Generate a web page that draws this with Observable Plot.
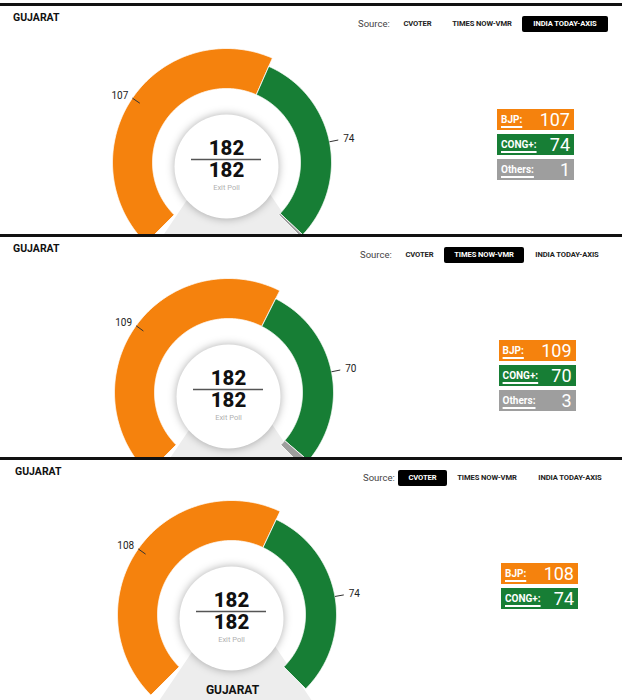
<!DOCTYPE html>
<html><head><meta charset="utf-8">
<script src="https://cdn.jsdelivr.net/npm/d3@7"></script>
<script src="https://cdn.jsdelivr.net/npm/@observablehq/plot@0.6"></script>
<style>
html,body{margin:0;background:#fff;overflow:hidden;font-family:Roboto,"Open Sans",sans-serif;}
#root{position:relative;width:622px;height:700px;overflow:hidden;}
.panel{position:absolute;left:0;width:622px;overflow:hidden;background:#fff;}
.panel svg{position:absolute;left:0;top:0;}
.rule{position:absolute;left:0;width:622px;height:2.5px;background:#111;}
.title{position:absolute;font-weight:700;font-size:10.5px;color:#111;line-height:12px;}
.src{position:absolute;display:flex;align-items:center;height:16px;}
.src .lab{font-size:9.5px;color:#444;width:35px;}
.src .it{font-weight:700;font-size:7.6px;color:#222;height:16px;line-height:16px;text-align:center;border-radius:2px;letter-spacing:-0.1px;}
.src .it.on{background:#000;color:#fff;}
.leg{position:absolute;}
.box{width:77px;height:21px;margin-bottom:4px;display:flex;justify-content:space-between;align-items:center;color:#fff;box-sizing:border-box;padding:0 4px 0 4px;}
.box .k{font-weight:700;font-size:10px;text-decoration:underline;text-decoration-thickness:1.5px;text-underline-offset:3px;}
.box .v{font-size:18px;}
</style></head><body><div id="root"></div><script>
// ---- data ----
const stateName = "GUJARAT";
const centerCaption = "Exit Poll";
const parties = ["BJP", "CONG+", "Others"];
const partyColors = ["#F5820D", "#177E35", "#9E9E9E"];
const sources = ["CVOTER", "TIMES NOW-VMR", "INDIA TODAY-AXIS"];
const panelSources = ["INDIA TODAY-AXIS", "TIMES NOW-VMR", "CVOTER"];
const seatsIndiaTodayAxis = [107, 74, 1];
const seatsTimesNowVmr = [109, 70, 3];
const seatsCvoter = [108, 74, 0];
const totalSeats = 182;

// ---- layout ----
const layout = [
  {top: 0,   height: 234, rule: 3, dx: 0, cy: 162, titleLeft: 13, footer: false},
  {top: 234, height: 223, rule: 0, dx: 2, cy: 158, titleLeft: 13, footer: false},
  {top: 457, height: 243, rule: 0, dx: 5, cy: 157, titleLeft: 15, footer: true}
];
const srcWidths = [49, 80, 86];
const seatsByPanel = [seatsIndiaTodayAxis, seatsTimesNowVmr, seatsCvoter];
const DEG = Math.PI / 180;
const startAngle = -135, sweep = 270;
const rInner = 74, rOuter = 105, rOuterHover = 114;
const polar = (r, a) => ({x: r * Math.sin(a * DEG), y: -r * Math.cos(a * DEG)});
function sector(a0, a1, r0, r1) {
  const n = Math.max(2, Math.ceil((a1 - a0) / 0.5));
  const pts = [];
  for (let i = 0; i <= n; i++) pts.push(polar(r1, a0 + (a1 - a0) * i / n));
  for (let i = n; i >= 0; i--) pts.push(polar(r0, a0 + (a1 - a0) * i / n));
  pts.push(pts[0]);
  return pts;
}

const root = document.getElementById("root");
layout.forEach((L, p) => {
  const seats = seatsByPanel[p];
  const cx = 226 + L.dx;
  const W = 622, H = L.height;
  let acc = 0;
  const rows = parties.map((party, i) => {
    const d = {party, seats: seats[i], color: partyColors[i]};
    d.a0 = startAngle + acc / totalSeats * sweep;
    acc += d.seats;
    d.a1 = startAngle + acc / totalSeats * sweep;
    d.mid = (d.a0 + d.a1) / 2;
    return d;
  }).filter(d => d.seats > 0);
  const reported = d3.sum(seats);

  const marks = [];
  // pedestal wedge behind the disc
  const half = 34 * DEG, len = 300;
  const ped = [{x: 4, y: -27}, {x: 4 - len * Math.sin(half), y: -27 + len * Math.cos(half)},
               {x: 4 + len * Math.sin(half), y: -27 + len * Math.cos(half)}, {x: 4, y: -27}];
  marks.push(Plot.line(ped, {x: "x", y: "y", fill: "#EDEDED", stroke: "none"}));
  // arc segments
  rows.forEach((d, i) => {
    marks.push(Plot.line(sector(d.a0, d.a1, rInner, i === 0 ? rOuterHover : rOuter),
      {x: "x", y: "y", fill: d.color, stroke: "white", strokeWidth: 0.8}));
  });
  // label ticks and labels
  const labeled = rows.filter(d => d.seats >= 10);
  marks.push(Plot.link(labeled, {
    x1: d => polar(rOuter, d.mid).x, y1: d => polar(rOuter, d.mid).y,
    x2: d => polar(rOuter + 9, d.mid).x, y2: d => polar(rOuter + 9, d.mid).y,
    stroke: "#333", strokeWidth: 1
  }));
  const lblOpts = {
    x: d => polar(rOuter + 14, d.mid).x, y: d => polar(rOuter + 14, d.mid).y,
    text: d => String(d.seats), fontSize: 10, fill: "#222"
  };
  marks.push(Plot.text(labeled.filter(d => d.mid < 0), {...lblOpts, textAnchor: "end"}));
  marks.push(Plot.text(labeled.filter(d => d.mid >= 0), {...lblOpts, textAnchor: "start"}));
  // central disc
  marks.push(Plot.dot([0], {x: 0, y: 4, r: 52, fill: "white", stroke: "none"}));
  marks.push(Plot.text([reported], {x: 0, y: -13, text: d => String(d), fontSize: 20.5, fontWeight: 800, fill: "#111", lineHeight: 0.9}));
  marks.push(Plot.ruleY([-3], {x1: -35, x2: 35, stroke: "#555", strokeWidth: 1.5}));
  marks.push(Plot.text([totalSeats], {x: 0, y: 9, text: d => String(d), fontSize: 20.5, fontWeight: 800, fill: "#111", lineHeight: 0.9}));
  marks.push(Plot.text([centerCaption], {x: 0, y: 25, text: d => d, fontSize: 7.5, fill: "#B0B0B0"}));
  if (L.footer) marks.push(Plot.text([stateName], {x: 1, y: 76, text: d => d, fontSize: 12, fontWeight: 700, fill: "#111"}));

  const svg = Plot.plot({
    width: W, height: H, margin: 0,
    x: {domain: [-cx, W - cx], range: [0, W], axis: null},
    y: {domain: [-L.cy, H - L.cy], range: [0, H], axis: null},
    style: {background: "transparent", fontFamily: "Roboto, 'Open Sans', sans-serif", overflow: "visible"},
    marks
  });
  svg.querySelectorAll("circle").forEach(c => c.style.filter = "drop-shadow(0 0 4px rgba(0,0,0,0.32))");

  const panel = document.createElement("div");
  panel.className = "panel";
  panel.style.top = L.top + "px";
  panel.style.height = H + "px";
  panel.appendChild(svg);

  const rule = document.createElement("div");
  rule.className = "rule"; rule.style.top = L.rule + "px";
  panel.appendChild(rule);

  const title = document.createElement("div");
  title.className = "title"; title.textContent = stateName;
  title.style.left = L.titleLeft + "px"; title.style.top = (L.rule + 9) + "px";
  panel.appendChild(title);

  const src = document.createElement("div");
  src.className = "src";
  src.style.left = (358 + L.dx) + "px"; src.style.top = (L.rule + 12.5) + "px";
  const lab = document.createElement("div"); lab.className = "lab"; lab.textContent = "Source:";
  src.appendChild(lab);
  sources.forEach((s, i) => {
    const it = document.createElement("div");
    it.className = "it" + (s === panelSources[p] ? " on" : "");
    it.style.width = srcWidths[i] + "px";
    it.textContent = s;
    src.appendChild(it);
  });
  panel.appendChild(src);

  const leg = document.createElement("div");
  leg.className = "leg";
  leg.style.left = (497 + L.dx * 0.8) + "px"; leg.style.top = (L.rule + 106) + "px";
  rows.forEach(d => {
    const b = document.createElement("div");
    b.className = "box"; b.style.background = d.color;
    b.innerHTML = `<span class="k">${d.party}:</span><span class="v">${d.seats}</span>`;
    leg.appendChild(b);
  });
  panel.appendChild(leg);
  root.appendChild(panel);
});
</script></body></html>
